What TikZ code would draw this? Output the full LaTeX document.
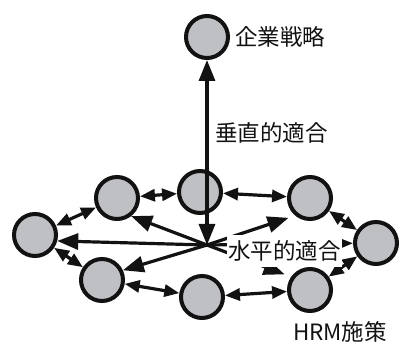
\documentclass[tikz,border=0pt]{standalone}
\usepackage{fontspec}
\setmainfont{Noto Sans CJK JP}
\usepackage{xcolor}
\usetikzlibrary{arrows.meta,positioning}

\begin{document}
\begin{tikzpicture}[x=1pt, y=-1pt, >={Triangle[length=21pt, width=16pt]}]
	\definecolor{CIRCLE_GRAY}{RGB}{191, 192, 196}
	\definecolor{ALMOST_BLACK}{RGB}{18, 18, 18}
	\tikzset{
		policy/.style={circle, draw=ALMOST_BLACK, line width=4pt, fill=CIRCLE_GRAY, minimum size=42pt, inner sep=0pt},
		link/.style={draw=ALMOST_BLACK, line width=3.2pt},
		ringlink/.style={link, {Triangle[length=15pt, width=12pt]}-{Triangle[length=15pt, width=12pt]}},
		tag/.style={font=\fontsize{22.5}{22.5}\selectfont, text=ALMOST_BLACK, inner sep=1pt}
	}
	\useasboundingbox (0,0) rectangle (400,345);

	% strategy on top
	\node[policy] (strategy) at (207, 37) {};
	\node[tag, right=4pt of strategy] (strategylabel) {企業戦略};

	% ring of HRM policies
	\node[policy] (p1) at ( 35, 235) {};
	\node[policy] (p2) at (117, 198) {};
	\node[policy] (p3) at (200, 192) {};
	\node[policy] (p4) at (310, 198) {};
	\node[policy] (p5) at (376, 243) {};
	\node[policy] (p6) at (310, 290) {};
	\node[policy] (p7) at (202, 297) {};
	\node[policy] (p8) at (102, 280) {};
	\coordinate (hub) at (207, 245);

	\foreach \a/\b in {p1/p2, p2/p3, p3/p4, p4/p5, p5/p6, p6/p7, p7/p8, p8/p1}
		\draw[ringlink] (\a) -- (\b);

	\draw[link, ->] (hub) -- (p1.-15);
	\draw[link, ->] (hub) -- (p2.-52);
	\draw[link, ->] (hub) -- (p8.25);
	\draw[link, ->, shorten >=7pt] (hub) -- (p4.230);
	\draw[link, ->] (hub) -- (p5);
	\draw[link, ->, shorten >=7pt] (hub) -- (p6.145);

	% vertical fit
	\draw[link, <->] (hub) -- (strategy);
	\node[tag, anchor=west] (verticallabel) at (214, 133) {垂直的適合};

	% horizontal fit
	\node[tag, fill=white, inner ysep=6pt, anchor=west] (horizontallabel) at (227, 251) {水平的適合};

	\node[tag] (ringlabel) at (340, 332) {HRM施策};
\end{tikzpicture}
\end{document}
